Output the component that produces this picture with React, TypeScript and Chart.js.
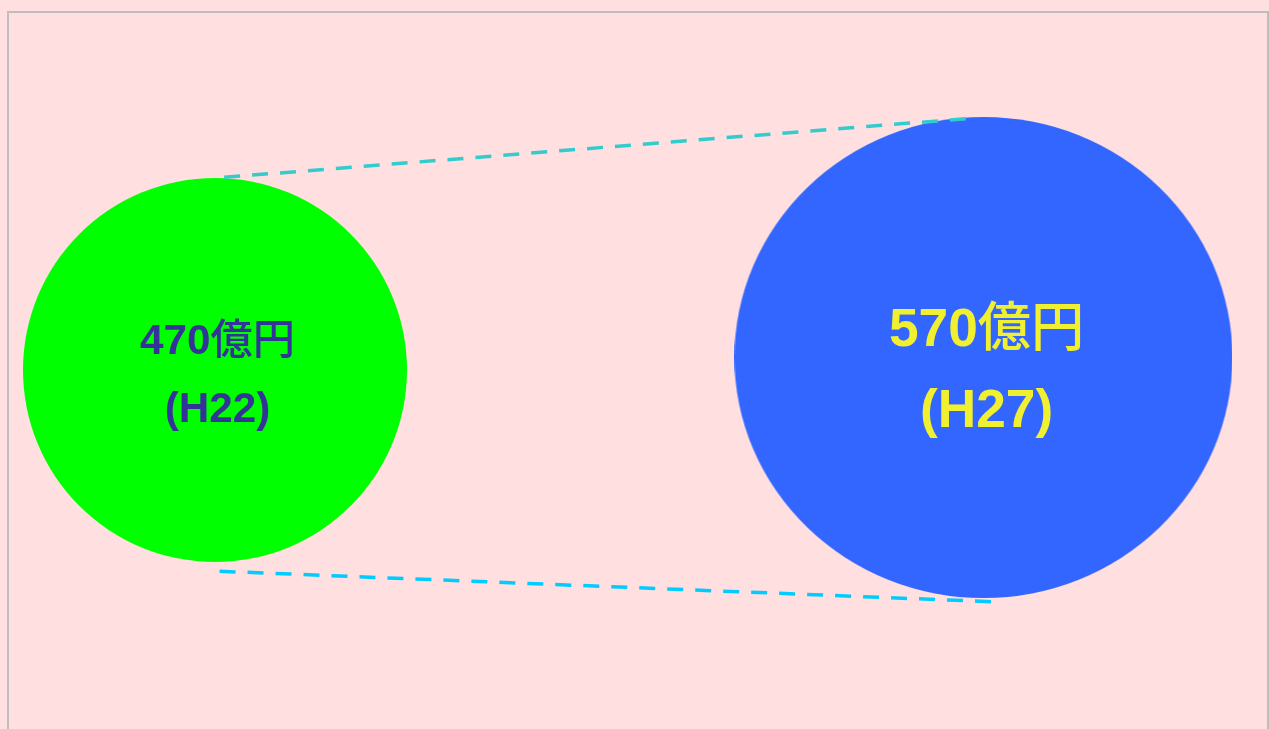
import { useEffect, useRef } from 'react';
import { Chart, registerables } from 'chart.js';

Chart.register(...registerables);

// ---- data ----
const periods = ['H22', 'H27'];
const periodYears = [22, 27];
const amounts = [470, 570];
const amountUnit = '億円';
const bubbleLevels = [50.14, 51.89];
const bubbleRadiusX = [192, 249];
const bubbleRadiusY = [192, 240.5];
const upperGuideX = [22.06, 26.886];
const upperGuideY = [77.05, 85.24];
const lowerGuideX = [22.03, 27.05];
const lowerGuideY = [22.03, 17.78];

// ---- styles ----
const bubbleColors = ['#00FF00', '#3366FF'];
const labelColors = ['#333399', '#F0F030'];
const labelScale = [0.22, 0.214];
const labelBaselines = [
  [-0.37, 1.23],
  [-0.22, 1.31],
];
const PAGE_BG = '#FFDFDF';

function makeEllipse(rx: number, ry: number, color: string) {
  const c = document.createElement('canvas');
  c.width = Math.round(rx * 2);
  c.height = Math.round(ry * 2);
  const ctx = c.getContext('2d')!;
  ctx.fillStyle = color;
  ctx.beginPath();
  ctx.ellipse(c.width / 2, c.height / 2, rx, ry, 0, 0, Math.PI * 2);
  ctx.fill();
  return c;
}

function drawRuns(ctx: CanvasRenderingContext2D, text: string, cx: number, baseY: number, fs: number, color: string) {
  const runs = text.match(/[\x00-\x7F]+|[^\x00-\x7F]+/g) || [];
  const fontFor = (r: string) =>
    /^[\x00-\x7F]+$/.test(r)
      ? `bold ${fs}px "Liberation Sans", Arial, sans-serif`
      : `500 ${fs}px "Noto Sans CJK JP", sans-serif`;
  const widths = runs.map((r) => {
    ctx.font = fontFor(r);
    return ctx.measureText(r).width;
  });
  const total = widths.reduce((a, b) => a + b, 0);
  let x = cx - total / 2;
  ctx.fillStyle = color;
  ctx.textAlign = 'left';
  ctx.textBaseline = 'alphabetic';
  runs.forEach((r, i) => {
    ctx.font = fontFor(r);
    ctx.fillText(r, x, baseY);
    x += widths[i];
  });
}

const labelPlugin = {
  id: 'bubbleLabels',
  afterDatasetsDraw(chart: any) {
    const ctx: CanvasRenderingContext2D = chart.ctx;
    chart.data.datasets.forEach((ds: any, di: number) => {
      if (!ds.isBubbles) return;
      const meta = chart.getDatasetMeta(di);
      meta.data.forEach((el: any, i: number) => {
        const fs = bubbleRadiusX[i] * labelScale[i];
        const lines = [`${amounts[i]}${amountUnit}`, `(${periods[i]})`];
        ctx.save();
        lines.forEach((t, li) => {
          drawRuns(ctx, t, el.x + fs * 0.06, el.y + labelBaselines[i][li] * fs, fs, labelColors[i]);
        });
        ctx.restore();
      });
    });
  },
};

export default function App() {
  const ref = useRef<HTMLCanvasElement | null>(null);

  useEffect(() => {
    document.documentElement.style.overflow = 'hidden';
    document.body.style.margin = '0';
    document.body.style.background = PAGE_BG;

    const styles = periodYears.map((_, i) => makeEllipse(bubbleRadiusX[i], bubbleRadiusY[i], bubbleColors[i]));

    const chart = new Chart(ref.current!, {
      type: 'scatter',
      data: {
        datasets: [
          {
            label: 'upper',
            data: upperGuideX.map((x, i) => ({ x, y: upperGuideY[i] })),
            showLine: true,
            borderColor: '#33CCCC',
            borderWidth: 3.5,
            borderDash: [16, 12],
            pointRadius: 0,
            clip: false,
            order: 0,
          },
          {
            label: 'lower',
            data: lowerGuideX.map((x, i) => ({ x, y: lowerGuideY[i] })),
            showLine: true,
            borderColor: '#00CCFF',
            borderWidth: 3.5,
            borderDash: [16, 12],
            pointRadius: 0,
            clip: false,
            order: 0,
          },
          {
            label: 'amount',
            isBubbles: true,
            data: periodYears.map((x, i) => ({ x, y: bubbleLevels[i] })),
            pointStyle: styles,
            pointRadius: bubbleRadiusX,
            showLine: false,
            clip: false,
            order: 1,
          } as any,
        ],
      },
      options: {
        responsive: false,
        animation: false,
        events: [],
        layout: { padding: 0, autoPadding: false },
        plugins: { legend: { display: false }, tooltip: { enabled: false } },
        scales: {
          x: { type: 'linear', display: false, min: 20.66, max: 28.845 },
          y: { type: 'linear', display: false, min: 0, max: 100 },
        },
      } as any,
      plugins: [labelPlugin],
    });
    return () => chart.destroy();
  }, []);

  return (
    <div
      style={{
        position: 'absolute',
        left: 7,
        top: 11,
        width: 1262,
        height: 720,
        boxSizing: 'border-box',
        border: '2px solid #BEBEBE',
        background: PAGE_BG,
      }}
    >
      <canvas ref={ref} width={1258} height={716} style={{ display: 'block' }} />
    </div>
  );
}
